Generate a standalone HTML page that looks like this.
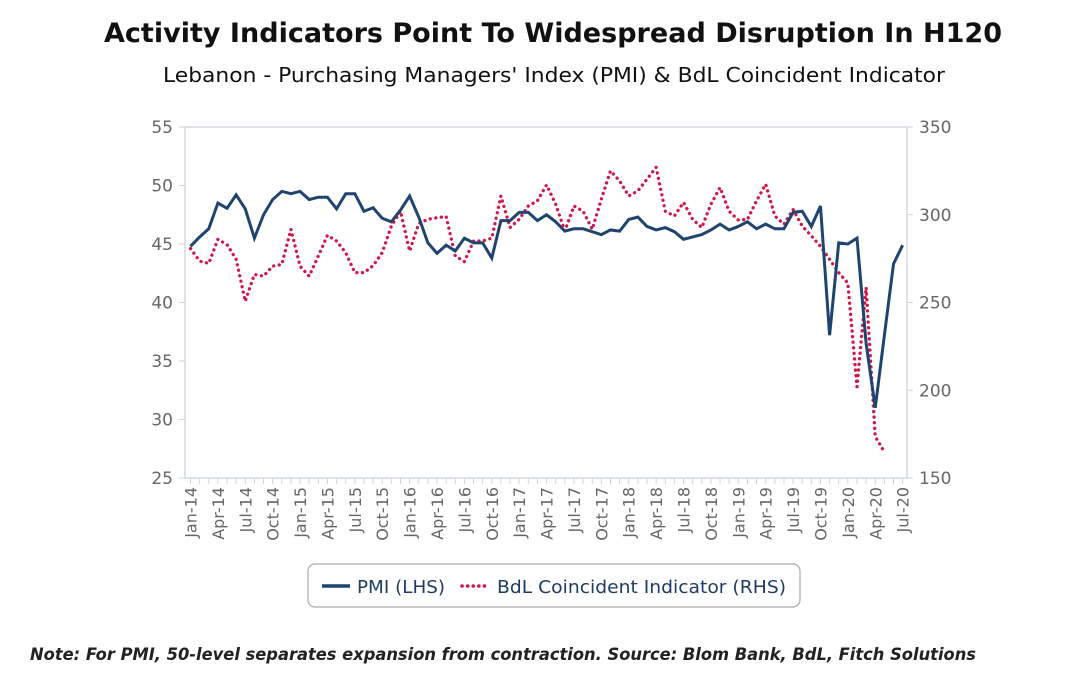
<!DOCTYPE html>
<html><head><meta charset="utf-8"><style>
body{margin:0;background:#fff;width:1071px;height:678px;overflow:hidden;font-family:"DejaVu Sans","Liberation Sans",sans-serif}
</style></head><body>
<svg id="chart" width="1071" height="678" xmlns="http://www.w3.org/2000/svg" font-family="DejaVu Sans, Liberation Sans, sans-serif">
<text x="553" y="42" text-anchor="middle" font-size="27" font-weight="bold" fill="#111" textLength="898" lengthAdjust="spacingAndGlyphs">Activity Indicators Point To Widespread Disruption In H120</text>
<text x="554" y="82" text-anchor="middle" font-size="20" fill="#111" textLength="782" lengthAdjust="spacingAndGlyphs">Lebanon - Purchasing Managers' Index (PMI) &amp; BdL Coincident Indicator</text>
<g id="axes"></g>
<g id="marks"></g>
<g>
<rect x="308" y="564" width="492" height="43" rx="7" fill="#fff" stroke="#aaa" stroke-width="1.2"/>
<line x1="322" y1="586" x2="350" y2="586" stroke="#1f4470" stroke-width="3.5"/>
<text x="357" y="593" font-size="18" fill="#1f3c64" textLength="88" lengthAdjust="spacingAndGlyphs">PMI (LHS)</text>
<line x1="462" y1="586" x2="490" y2="586" stroke="#d0164a" stroke-width="3.5" stroke-dasharray="0.1 5.5" stroke-linecap="round"/>
<text x="497" y="593" font-size="18" fill="#1f3c64" textLength="289" lengthAdjust="spacingAndGlyphs">BdL Coincident Indicator (RHS)</text>
</g>
<text x="30" y="660" font-size="17" font-style="italic" font-weight="bold" fill="#222" textLength="946" lengthAdjust="spacingAndGlyphs">Note: For PMI, 50-level separates expansion from contraction. Source: Blom Bank, BdL, Fitch Solutions</text>
</svg>
<script>
const months=["Jan","Feb","Mar","Apr","May","Jun","Jul","Aug","Sep","Oct","Nov","Dec"];
const leftTicks=[25,30,35,40,45,50,55];
const rightTicks=[150,200,250,300,350];
const pmi=[44.8,45.6,46.3,48.5,48.05,49.2,48,45.5,47.5,48.8,49.5,49.3,49.5,48.8,49,49,48,49.3,49.3,47.8,48.1,47.2,46.9,47.9,49.1,47.3,45.1,44.2,44.9,44.4,45.5,45.1,45.1,43.8,47,47,47.7,47.7,47,47.5,46.9,46.1,46.3,46.3,46.05,45.8,46.2,46.1,47.1,47.3,46.5,46.2,46.4,46.05,45.4,45.6,45.8,46.2,46.7,46.2,46.5,46.9,46.3,46.7,46.3,46.3,47.7,47.8,46.5,48.25,37.2,45.1,45,45.5,36.5,31,37.2,43.3,44.9];
const bdl=[280.7,273.6,272.3,286,283,274.6,250.7,266,265,270.7,271.7,291.7,270.7,265,276.5,288.3,285,278.4,267,267,271,278.4,293.6,302,279.3,295,297.4,298.3,299,276.5,273.3,285,285,286.7,310.7,292.7,297.4,305,308,317,306,290.7,305,302,291.7,308.9,325,319.3,310.7,313.6,320.3,327,302,299.3,307,297.4,292.7,306,315.5,302,297,297.3,308,317.4,299.3,294.6,303,293.6,288,282,274.6,267,261,202,258.6,173.6,164.9];
const X0=190.5,DX=9.13,PL=185,PR=907,PT=127,PB=478;
const x=i=>X0+DX*i;
const yL=v=>PB-(v-25)*(PB-PT)/30;
const yR=v=>PB-(v-150)*(PB-PT)/200;
const NS="http://www.w3.org/2000/svg";
function mk(t,a,p){const e=document.createElementNS(NS,t);for(const k in a)e.setAttribute(k,a[k]);p.appendChild(e);return e;}
const ax=document.getElementById('axes'),mg=document.getElementById('marks');
let e=mk('rect',{x:PL,y:PT,width:PR-PL,height:PB-PT,fill:'none',stroke:'#ccd4de','stroke-width':1.3},ax);


leftTicks.forEach(v=>{
 const t=mk('text',{x:PL-12,y:yL(v)+6,'text-anchor':'end','font-size':17,fill:'#666'},ax);t.textContent=v;
 
 
 mk('line',{x1:PL-6,x2:PL,y1:yL(v),y2:yL(v),stroke:'#ccd4de'},ax);
});
rightTicks.forEach(v=>{
 const t=mk('text',{x:PR+12,y:yR(v)+6,'font-size':17,fill:'#666'},ax);t.textContent=v;
 
 
 mk('line',{x1:PR,x2:PR+6,y1:yR(v),y2:yR(v),stroke:'#ccd4de'},ax);
});
for(let i=0;i<pmi.length;i++){
 mk('line',{x1:x(i),x2:x(i),y1:PB,y2:PB+6,stroke:'#ccd4de'},ax);
 if(i%3===0){
  const lab=months[i%12]+"-"+(14+Math.floor(i/12));
  const t=mk('text',{x:0,y:0,'text-anchor':'end','font-size':16,fill:'#666',transform:`translate(${x(i)+6},${PB+9}) rotate(-90)`},ax);
  t.textContent=lab;
  
  
 }
}
const bl=mk('polyline',{points:bdl.map((v,i)=>x(i)+','+yR(v)).join(' '),fill:'none',stroke:'#d0164a','stroke-width':3.3,'stroke-dasharray':'0.1 5.5','stroke-linecap':'round','stroke-linejoin':'round'},mg);


const pl=mk('polyline',{points:pmi.map((v,i)=>x(i)+','+yL(v)).join(' '),fill:'none',stroke:'#1f4470','stroke-width':3,'stroke-linejoin':'miter'},mg);


</script>
</body></html>
